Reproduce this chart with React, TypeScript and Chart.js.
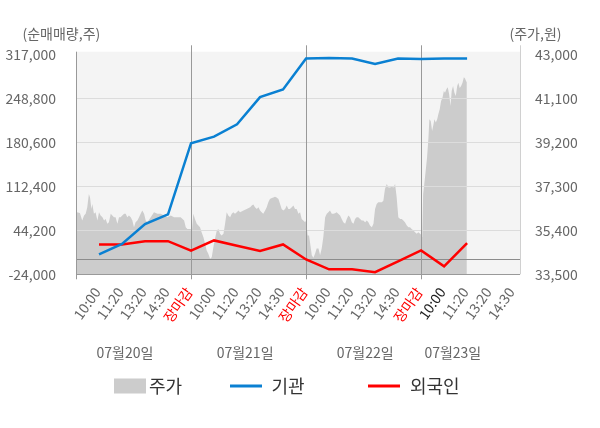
import { useEffect, useRef } from 'react';
import { Chart, registerables } from 'chart.js';

Chart.register(...registerables);

const FONT = '"Noto Sans CJK KR", "Noto Sans", sans-serif';

// x-axis tick labels (one per category slot)
const timeLabels = [
  '10:00', '11:20', '13:20', '14:30', '장마감',
  '10:00', '11:20', '13:20', '14:30', '장마감',
  '10:00', '11:20', '13:20', '14:30', '장마감',
  '10:00', '11:20', '13:20', '14:30',
];
const closeSlots = [4, 9, 14];
const currentSlot = 15;

const dateLabels = ['07월20일', '07월21일', '07월22일', '07월23일'];
const datePositions = [1.13, 6.35, 11.57, 15.38];

// net buy series (left axis)
const lineSlots = [0, 1, 2, 3, 4, 5, 6, 7, 8, 9, 10, 11, 12, 13, 14, 15, 16];
const institution = [7000, 23000, 54000, 69000, 179200, 189400, 208500, 250700, 262500, 310400, 311300, 310400, 302000, 310400, 309700, 310400, 310400];
const foreign = [22300, 22300, 27400, 27400, 12500, 28500, 20300, 12000, 22300, -1000, -16300, -16300, -20800, -4000, 13000, -11700, 24300];

const leftTicks = [-24000, 44200, 112400, 180600, 248800, 317000];
const rightTicks = [33500, 35400, 37300, 39200, 41100, 43000];

// share price (right axis): [slot position, price]
const priceDay1: [number, number][] = [
  [-1.0, 35180], [-0.96, 36180], [-0.83, 36150], [-0.73, 35820], [-0.65, 36040], [-0.58, 36110],
  [-0.51, 36390], [-0.44, 36970], [-0.39, 36820], [-0.33, 36320], [-0.29, 36540], [-0.22, 36110],
  [-0.15, 36180], [-0.07, 35820], [0.0, 36180], [0.07, 36040], [0.15, 35960], [0.22, 35820],
  [0.29, 35890], [0.36, 35680], [0.43, 35750], [0.51, 36110], [0.58, 36040], [0.65, 35960],
  [0.72, 35960], [0.8, 35680], [0.87, 35960], [0.94, 35960], [1.01, 36040], [1.09, 36110],
  [1.16, 36110], [1.23, 35960], [1.3, 36040], [1.38, 35960], [1.45, 35820], [1.52, 35530],
  [1.59, 35750], [1.67, 35820], [1.74, 35960], [1.81, 36110], [1.88, 36250], [1.96, 36110],
  [2.03, 35820], [2.1, 35750], [2.25, 35960], [2.39, 36180], [2.54, 36110], [2.68, 36110],
  [2.83, 36040], [2.97, 35960], [3.12, 36040], [3.26, 35960], [3.41, 35960], [3.55, 35960],
  [3.7, 35820], [3.77, 35530], [3.84, 35460], [3.99, 35460],
];
const priceDay2: [number, number][] = [
  [4.03, 35250], [4.1, 36110], [4.17, 35890], [4.25, 35680], [4.32, 35610], [4.39, 35530],
  [4.46, 35320], [4.54, 35100], [4.61, 34820], [4.68, 34530], [4.75, 34390], [4.83, 34170],
  [4.9, 34240], [4.97, 34670], [5.04, 35030], [5.12, 35390], [5.19, 35460], [5.26, 35250],
  [5.33, 35180], [5.41, 35250], [5.48, 35680], [5.55, 36180], [5.62, 36040], [5.7, 35960],
  [5.77, 36110], [5.84, 36180], [5.91, 36110], [5.99, 36180], [6.06, 36250], [6.13, 36180],
  [6.28, 36250], [6.42, 36320], [6.57, 36390], [6.64, 36470], [6.71, 36510], [6.78, 36390],
  [6.86, 36320], [6.93, 36390], [7.0, 36250], [7.07, 36180], [7.14, 36110], [7.22, 36250],
  [7.29, 36390], [7.36, 36610], [7.43, 36750], [7.51, 36800], [7.58, 36820], [7.65, 36850],
  [7.72, 36820], [7.8, 36750], [7.87, 36540], [7.94, 36320], [8.01, 36250], [8.09, 36320],
  [8.16, 36470], [8.23, 36320], [8.3, 36320], [8.38, 36390], [8.45, 36470], [8.52, 36320],
  [8.59, 36320], [8.67, 36110], [8.74, 36180], [8.81, 35890], [8.88, 35820], [8.96, 35750],
  [9.0, 35820],
];
const priceDay3: [number, number][] = [
  [9.07, 35180], [9.13, 35180], [9.17, 34890], [9.25, 34320], [9.32, 34220], [9.39, 34390],
  [9.46, 34610], [9.54, 34610], [9.61, 34320], [9.68, 34610], [9.75, 35100], [9.83, 35960],
  [9.9, 36110], [9.97, 36180], [10.04, 36250], [10.12, 36110], [10.19, 36110], [10.26, 36140],
  [10.33, 36180], [10.4, 36110], [10.48, 36040], [10.55, 35890], [10.62, 35750], [10.7, 35680],
  [10.77, 35890], [10.84, 36040], [10.91, 35960], [10.99, 35750], [11.06, 35680], [11.13, 35890],
  [11.2, 35960], [11.27, 35960], [11.35, 35890], [11.42, 35820], [11.49, 35820], [11.57, 35750],
  [11.64, 35820], [11.71, 35750], [11.78, 35610], [11.86, 35530], [11.93, 35680], [12.0, 36320],
  [12.07, 36540], [12.14, 36610], [12.22, 36610], [12.29, 36610], [12.36, 36680], [12.43, 37180],
  [12.51, 37400], [12.58, 37250], [12.65, 37250], [12.72, 37280], [12.8, 37250], [12.87, 37400],
  [12.94, 36820], [13.01, 35960], [13.09, 35890], [13.16, 35890], [13.23, 35820], [13.3, 35750],
  [13.38, 35610], [13.45, 35530], [13.52, 35530], [13.59, 35460], [13.67, 35390], [13.74, 35320],
  [13.81, 35250], [13.88, 35320], [13.96, 35250], [14.03, 35180],
];
const priceDay4: [number, number][] = [
  [14.05, 35100], [14.09, 36970], [14.14, 37400], [14.2, 37970], [14.26, 38540], [14.32, 39400],
  [14.36, 40200], [14.42, 40120], [14.48, 39690], [14.54, 39980], [14.58, 40200], [14.64, 40050],
  [14.7, 40200], [14.75, 40410], [14.81, 40630], [14.87, 40980], [14.93, 41120], [14.99, 41410],
  [15.04, 41340], [15.1, 41490], [15.16, 41580], [15.22, 41270], [15.28, 40770], [15.33, 41410],
  [15.39, 41630], [15.45, 41340], [15.51, 41200], [15.57, 41630], [15.62, 41770], [15.68, 41550],
  [15.74, 41630], [15.8, 41770], [15.86, 42010], [15.91, 41960], [15.96, 41840], [15.99, 41800],
];

const BLUE = '#0a80d2';
const RED = '#ff0000';
const PRICE_FILL = '#cccccc';

export default function App() {
  const ref = useRef<HTMLCanvasElement>(null);

  useEffect(() => {
    document.body.style.margin = '0';
    const canvas = ref.current;
    if (!canvas) return;

    const priceData = [...priceDay1, ...priceDay2, ...priceDay3, ...priceDay4].map(([x, y]) => ({ x, y }));

    const hline = (ctx: CanvasRenderingContext2D, x1: number, x2: number, y: number, color: string) => {
      const yy = Math.round(y) + 0.5;
      ctx.strokeStyle = color;
      ctx.lineWidth = 1;
      ctx.beginPath();
      ctx.moveTo(x1, yy);
      ctx.lineTo(x2, yy);
      ctx.stroke();
    };
    const vline = (ctx: CanvasRenderingContext2D, x: number, y1: number, y2: number, color: string) => {
      const xx = Math.round(x) + 0.5;
      ctx.strokeStyle = color;
      ctx.lineWidth = 1;
      ctx.beginPath();
      ctx.moveTo(xx, y1);
      ctx.lineTo(xx, y2);
      ctx.stroke();
    };

    const deco = {
      id: 'deco',
      beforeDatasetsDraw(chart: any) {
        const { ctx, chartArea: a } = chart;
        ctx.save();
        ctx.fillStyle = '#f4f4f4';
        ctx.fillRect(a.left, a.top - 2.6, a.right - a.left, a.bottom - a.top + 2.6);
        ctx.restore();
      },
      afterDatasetDraw(chart: any, args: any) {
        if (args.index !== 0) return;
        const { ctx, chartArea: a, scales } = chart;
        ctx.save();
        leftTicks.forEach((v, i) => {
          if (i === 0 || i === leftTicks.length - 1) return;
          hline(ctx, a.left, a.right, scales.y.getPixelForValue(v), '#dcdcdc');
        });
        hline(ctx, a.left, a.right, scales.y.getPixelForValue(0), '#8c8c8c');
        closeSlots.forEach((s) => {
          vline(ctx, scales.x.getPixelForValue(s), a.top - 9, a.bottom + 5, '#999999');
        });
        vline(ctx, a.left, a.top - 2.6, a.bottom + 5, '#999999');
        vline(ctx, a.right, a.top - 9, a.bottom, '#d0d0d0');
        hline(ctx, a.left, a.right, a.bottom, '#999999');
        ctx.restore();
      },
      afterDraw(chart: any) {
        const { ctx, scales } = chart;
        ctx.save();
        ctx.font = `14px ${FONT}`;
        ctx.fillStyle = '#666666';
        ctx.textBaseline = 'middle';
        ctx.textAlign = 'left';
        ctx.fillText('(순매매량,주)', 22.5, 33.5);
        ctx.fillText('(주가,원)', 509.5, 33.5);

        ctx.textAlign = 'center';
        dateLabels.forEach((t, i) => {
          ctx.fillText(t, scales.x.getPixelForValue(datePositions[i]), 353);
        });

        // legend
        const ly = 386;
        ctx.font = `18px ${FONT}`;
        ctx.textAlign = 'left';
        ctx.fillStyle = PRICE_FILL;
        ctx.fillRect(114, ly - 7.5, 32, 15);
        ctx.fillStyle = '#333333';
        ctx.fillText('주가', 149, ly);

        ctx.lineWidth = 3;
        ctx.strokeStyle = BLUE;
        ctx.beginPath();
        ctx.moveTo(230, ly);
        ctx.lineTo(262, ly);
        ctx.stroke();
        ctx.fillText('기관', 271.5, ly);

        ctx.strokeStyle = RED;
        ctx.beginPath();
        ctx.moveTo(368, ly);
        ctx.lineTo(400, ly);
        ctx.stroke();
        ctx.fillText('외국인', 410, ly);
        ctx.restore();
      },
    };

    const chart = new Chart(canvas, {
      type: 'line',
      data: {
        datasets: [
          {
            label: '주가',
            data: priceData,
            yAxisID: 'y1',
            borderWidth: 0,
            borderColor: PRICE_FILL,
            backgroundColor: PRICE_FILL,
            fill: 'start',
            pointRadius: 0,
            tension: 0,
            order: 3,
          },
          {
            label: '기관',
            data: lineSlots.map((x, i) => ({ x, y: institution[i] })),
            yAxisID: 'y',
            borderColor: BLUE,
            backgroundColor: BLUE,
            borderWidth: 2.5,
            pointRadius: 0,
            fill: false,
            tension: 0,
            order: 1,
          },
          {
            label: '외국인',
            data: lineSlots.map((x, i) => ({ x, y: foreign[i] })),
            yAxisID: 'y',
            borderColor: RED,
            backgroundColor: RED,
            borderWidth: 2.5,
            pointRadius: 0,
            fill: false,
            tension: 0,
            order: 2,
          },
        ],
      },
      options: {
        responsive: true,
        maintainAspectRatio: false,
        animation: false,
        layout: { padding: { top: 54.3, left: 0, right: 0, bottom: 0 } },
        plugins: {
          legend: { display: false },
          tooltip: { enabled: false },
        },
        scales: {
          x: {
            type: 'linear',
            min: -1,
            max: 18.3,
            afterBuildTicks: (s: any) => {
              s.ticks = timeLabels.map((_, i) => ({ value: i }));
            },
            afterFit: (s: any) => {
              s.height = 153.7;
            },
            grid: { display: false },
            border: { display: false },
            ticks: {
              autoSkip: false,
              minRotation: 55,
              maxRotation: 55,
              padding: 2,
              labelOffset: -2,
              font: { family: FONT, size: 14 },
              color: (c: any) => {
                const v = c.tick ? c.tick.value : c.index;
                if (timeLabels[v] === '장마감') return RED;
                if (v === currentSlot) return '#222222';
                return '#666666';
              },
              callback: (v: any) => timeLabels[v as number] ?? '',
            },
          },
          y: {
            position: 'left',
            min: -24000,
            max: 317000,
            afterBuildTicks: (s: any) => {
              s.ticks = leftTicks.map((v) => ({ value: v }));
            },
            afterFit: (s: any) => {
              s.width = 76;
            },
            grid: { display: false },
            border: { display: false },
            ticks: {
              padding: 12,
              color: '#666666',
              font: { family: FONT, size: 14 },
              callback: (v: any) => Number(v).toLocaleString('en-US'),
            },
          },
          y1: {
            position: 'right',
            min: 33500,
            max: 43000,
            afterBuildTicks: (s: any) => {
              s.ticks = rightTicks.map((v) => ({ value: v }));
            },
            afterFit: (s: any) => {
              s.width = 80;
            },
            grid: { display: false },
            border: { display: false },
            ticks: {
              padding: 7,
              color: '#666666',
              font: { family: FONT, size: 14 },
              callback: (v: any) => Number(v).toLocaleString('en-US'),
            },
          },
        },
      },
      plugins: [deco],
    });

    return () => {
      chart.destroy();
    };
  }, []);

  return (
    <div style={{ position: 'relative', width: 600, height: 428 }}>
      <canvas ref={ref} />
    </div>
  );
}
